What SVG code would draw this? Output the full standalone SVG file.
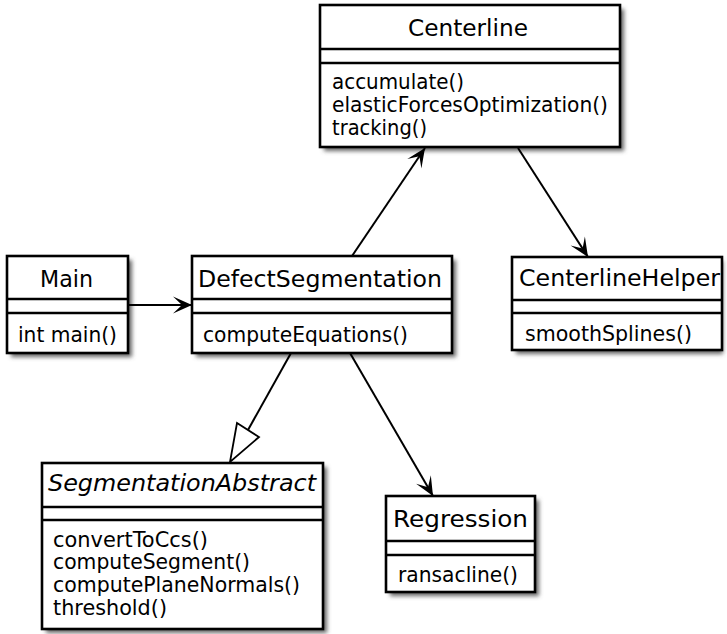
<svg xmlns="http://www.w3.org/2000/svg" width="727" height="634" viewBox="0 0 727 634">
<style>
.box{fill:#fff;stroke:#000;stroke-width:2.6}
.sh{fill:#666;filter:url(#blur)}
.div{stroke:#000;stroke-width:2.4}
.t{font-family:"DejaVu Sans",sans-serif;font-size:23px;fill:#000}
.m{font-family:"DejaVu Sans",sans-serif;font-size:20.5px;fill:#000}
.i{font-style:italic}
.c{fill:none;stroke:#000;stroke-width:2}
</style>
<defs>
<filter id="blur" x="-10%" y="-10%" width="120%" height="120%"><feGaussianBlur stdDeviation="2"/></filter>
<marker id="arr" markerUnits="userSpaceOnUse" viewBox="-21 -10 23 20" refX="0" refY="0" markerWidth="23" markerHeight="20" orient="auto"><path d="M0,0 L-19,-8.5 L-10,0 L-19,8.5 Z" fill="#000"/></marker>
</defs>
<g id="Centerline">
<rect class="sh" x="324" y="9" width="300" height="142"/>
<rect class="box" x="320" y="5" width="300" height="142"/>
<line class="div" x1="320" y1="49" x2="620" y2="49"/><line class="div" x1="320" y1="63" x2="620" y2="63"/>
<text class="t" x="408" y="36" textLength="120" lengthAdjust="spacingAndGlyphs">Centerline</text>
<text class="m" x="332" y="89" textLength="132" lengthAdjust="spacingAndGlyphs">accumulate()</text>
<text class="m" x="332" y="112" textLength="276" lengthAdjust="spacingAndGlyphs">elasticForcesOptimization()</text>
<text class="m" x="332" y="135" textLength="95" lengthAdjust="spacingAndGlyphs">tracking()</text>
</g>
<g id="Main">
<rect class="sh" x="11" y="260" width="121" height="97"/>
<rect class="box" x="7" y="256" width="121" height="97"/>
<line class="div" x1="7" y1="299" x2="128" y2="299"/><line class="div" x1="7" y1="313" x2="128" y2="313"/>
<text class="t" x="40" y="287" textLength="53" lengthAdjust="spacingAndGlyphs">Main</text>
<text class="m" x="18" y="342" textLength="99" lengthAdjust="spacingAndGlyphs">int main()</text>
</g>
<g id="DefectSegmentation">
<rect class="sh" x="196" y="260" width="260" height="97"/>
<rect class="box" x="192" y="256" width="260" height="97"/>
<line class="div" x1="192" y1="299" x2="452" y2="299"/><line class="div" x1="192" y1="313" x2="452" y2="313"/>
<text class="t" x="198" y="287" textLength="244" lengthAdjust="spacingAndGlyphs">DefectSegmentation</text>
<text class="m" x="203" y="342" textLength="205" lengthAdjust="spacingAndGlyphs">computeEquations()</text>
</g>
<g id="CenterlineHelper">
<rect class="sh" x="516" y="261" width="207" height="93"/>
<rect class="box" x="512" y="257" width="210" height="93"/>
<line class="div" x1="512" y1="300" x2="722" y2="300"/><line class="div" x1="512" y1="313" x2="722" y2="313"/>
<text class="t" x="519" y="286" textLength="201" lengthAdjust="spacingAndGlyphs">CenterlineHelper</text>
<text class="m" x="525" y="341" textLength="167" lengthAdjust="spacingAndGlyphs">smoothSplines()</text>
</g>
<g id="SegmentationAbstract">
<rect class="sh" x="46" y="467" width="281" height="166"/>
<rect class="box" x="42" y="463" width="281" height="166"/>
<line class="div" x1="42" y1="507" x2="323" y2="507"/><line class="div" x1="42" y1="520" x2="323" y2="520"/>
<text class="t i" x="48" y="491" textLength="268" lengthAdjust="spacingAndGlyphs">SegmentationAbstract</text>
<text class="m" x="53" y="547" textLength="155" lengthAdjust="spacingAndGlyphs">convertToCcs()</text>
<text class="m" x="53" y="569" textLength="197" lengthAdjust="spacingAndGlyphs">computeSegment()</text>
<text class="m" x="53" y="592" textLength="247" lengthAdjust="spacingAndGlyphs">computePlaneNormals()</text>
<text class="m" x="53" y="615" textLength="114" lengthAdjust="spacingAndGlyphs">threshold()</text>
</g>
<g id="Regression">
<rect class="sh" x="390" y="500" width="149" height="96"/>
<rect class="box" x="386" y="496" width="149" height="96"/>
<line class="div" x1="386" y1="541" x2="535" y2="541"/><line class="div" x1="386" y1="555" x2="535" y2="555"/>
<text class="t" x="393" y="527" textLength="135" lengthAdjust="spacingAndGlyphs">Regression</text>
<text class="m" x="398" y="582" textLength="120" lengthAdjust="spacingAndGlyphs">ransacline()</text>
</g>
<g id="connectors">
<line class="c" x1="128" y1="305" x2="192" y2="305" marker-end="url(#arr)"/>
<line class="c" x1="352" y1="256" x2="425" y2="148" marker-end="url(#arr)"/>
<line class="c" x1="518" y1="148" x2="588" y2="257" marker-end="url(#arr)"/>
<line class="c" x1="350" y1="353" x2="433" y2="496" marker-end="url(#arr)"/>
<line class="c" x1="291" y1="353" x2="248" y2="430"/>
<polygon points="230,462 237,423 259,437" fill="#fff" stroke="#000" stroke-width="1.8"/>
</g>
</svg>
